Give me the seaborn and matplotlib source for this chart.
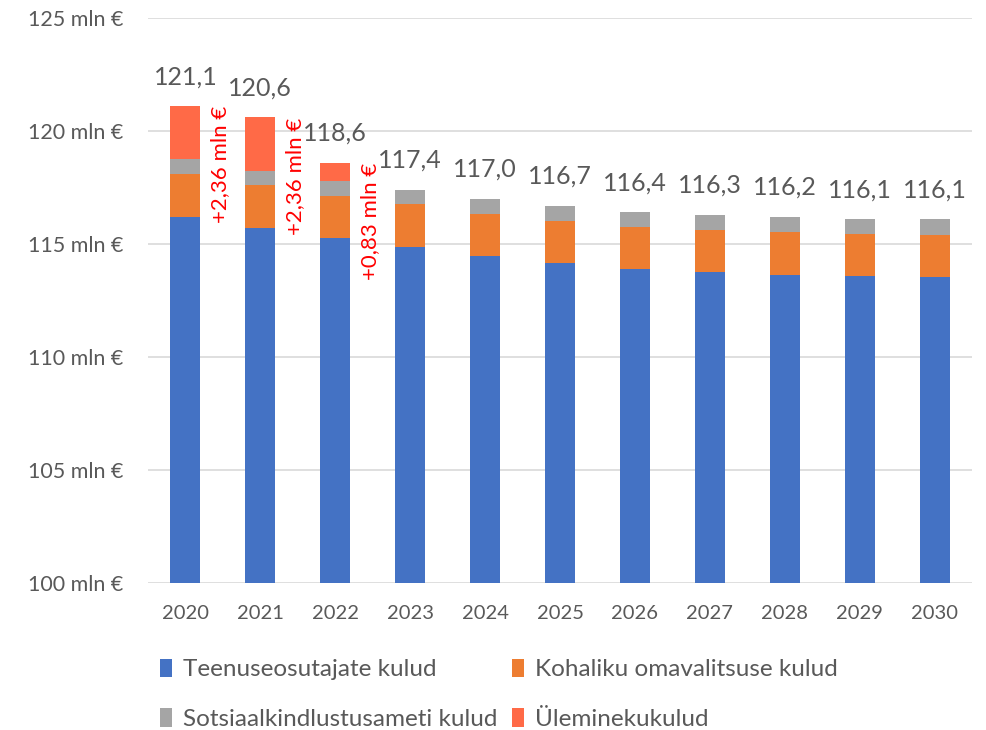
import matplotlib
matplotlib.use("Agg")
import matplotlib.pyplot as plt
import numpy as np
import pandas as pd
import seaborn as sns
from matplotlib.patches import Patch

years = ["2020", "2021", "2022", "2023", "2024", "2025", "2026", "2027", "2028", "2029", "2030"]
teenuseosutajate = [116.2, 115.7, 115.25, 114.85, 114.45, 114.15, 113.9, 113.75, 113.65, 113.6, 113.55]
kohaliku = [1.9, 1.9, 1.88, 1.9, 1.9, 1.85, 1.85, 1.85, 1.9, 1.85, 1.85]
sotsiaal = [0.64, 0.64, 0.64, 0.65, 0.65, 0.7, 0.65, 0.7, 0.65, 0.65, 0.7]
uleminek = [2.36, 2.36, 0.83, 0, 0, 0, 0, 0, 0, 0, 0]
totals = ["121,1", "120,6", "118,6", "117,4", "117,0", "116,7", "116,4", "116,3", "116,2", "116,1", "116,1"]
extra_labels = ["+2,36 mln €", "+2,36 mln €", "+0,83 mln €"]

series = ["Teenuseosutajate kulud", "Kohaliku omavalitsuse kulud",
          "Sotsiaalkindlustusameti kulud", "Üleminekukulud"]
colors = ["#4472C4", "#ED7D31", "#A5A5A5", "#FF6A47"]

sns.set_theme(style="white")
plt.rcParams["font.family"] = ["Lato", "DejaVu Sans"]
text_col = "#595959"

df = pd.DataFrame({"year": years, "a": teenuseosutajate, "b": kohaliku,
                   "c": sotsiaal, "d": uleminek})
cum = df[["a", "b", "c", "d"]].cumsum(axis=1)

fig = plt.figure(figsize=(9.86, 7.3), dpi=100)
ax = fig.add_axes([0.150, 0.2014, 0.836, 0.7739])

# draw cumulative heights from the top down so the stack shows
for col, color in zip(["d", "c", "b", "a"], colors[::-1]):
    sns.barplot(x=df["year"], y=cum[col], color=color, width=0.4,
                saturation=1, linewidth=0, ax=ax, zorder=3)

ax.set_ylim(100, 125)
ax.set_xlim(-0.5, 10.5)
ax.set_yticks(np.arange(100, 126, 5))
ax.set_yticklabels([f"{v} mln €" for v in range(100, 126, 5)])
ax.yaxis.grid(True, color="#D9D9D9", linewidth=1.2, zorder=0)
ax.set_axisbelow(True)
for s in ax.spines.values():
    s.set_visible(False)
ax.set_xlabel("")
ax.set_ylabel("")
ax.tick_params(axis="y", length=0, pad=18, labelsize=15.5, labelcolor=text_col)
ax.tick_params(axis="x", length=0, pad=16, labelsize=14.5, labelcolor=text_col)

tops = cum["d"].values
for i, lab in enumerate(totals):
    ax.annotate(lab, (i, tops[i]), xytext=(0, 13), textcoords="offset points",
                ha="center", va="bottom", fontsize=18, color=text_col)

for i, lab in enumerate(extra_labels):
    ax.text(i + 0.46, tops[i], lab, rotation=90, ha="center", va="top",
            fontsize=16, color="#FF0000")

# legend fills row by row like the original
order = [0, 2, 1, 3]
handles = [Patch(facecolor=colors[k], edgecolor="none") for k in order]
labels = [series[k] for k in order]
fig.legend(handles, labels, loc="lower left", bbox_to_anchor=(0.14, -0.03),
           ncol=2, frameon=False, fontsize=17.5, labelcolor=text_col,
           handlelength=0.5, handleheight=0.8, handletextpad=0.45,
           columnspacing=0.6, labelspacing=1.15)

fig.savefig("out.png", dpi=100)
